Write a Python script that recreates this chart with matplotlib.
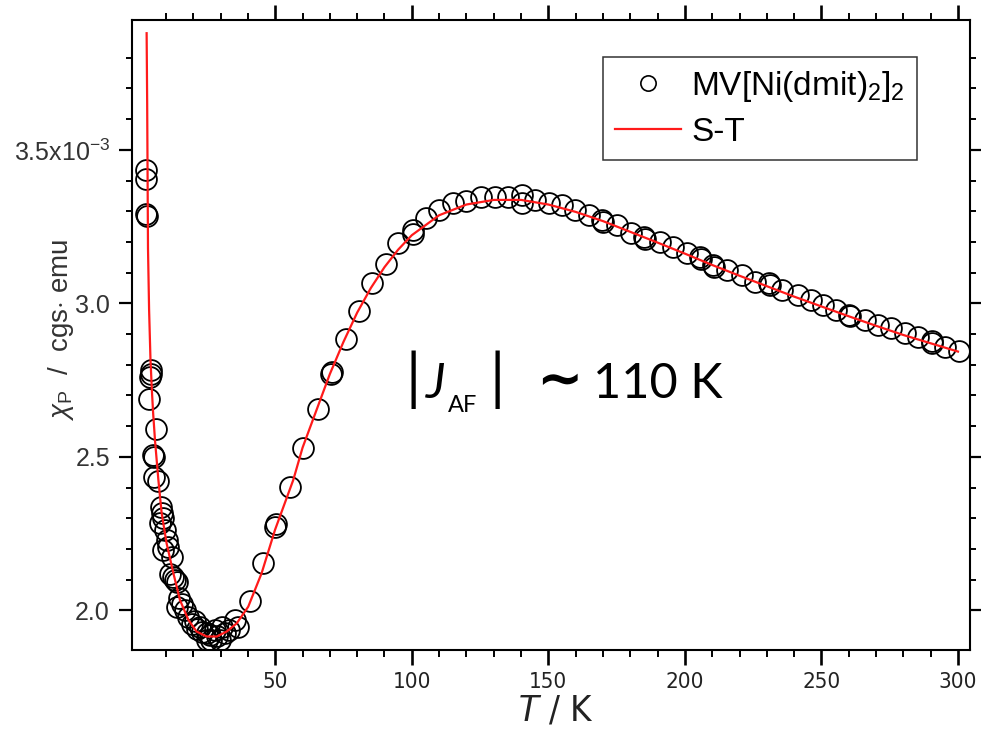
import matplotlib
matplotlib.use("Agg")
import matplotlib.pyplot as plt
from matplotlib import font_manager
from matplotlib.lines import Line2D
from matplotlib.ticker import FixedLocator, FixedFormatter, NullFormatter

_names = {f.name for f in font_manager.fontManager.ttflist}
NARROW = "Liberation Sans Narrow" if "Liberation Sans Narrow" in _names else "DejaVu Sans"
SANS = "Liberation Sans"
CAL = "Lato"

plt.rcParams["mathtext.fontset"] = "custom"
plt.rcParams["mathtext.rm"] = SANS
plt.rcParams["mathtext.it"] = SANS + ":italic"
plt.rcParams["mathtext.sf"] = SANS

# measured susceptibility, chi in units of 1e-3 emu/mol
T_data = [2.6, 2.7, 2.7, 2.9, 4.4, 4.6, 4.3, 3.9, 6.2, 5.4, 5.7, 5.6, 7.2, 8.0, 8.4,
          7.8, 8.8, 9.5, 10.2, 9.0, 10.8, 12.1, 11.5, 12.7, 13.9, 13.2, 13.9, 14.8,
          16.0, 17.0, 18.2, 19.5, 20.6, 21.5, 22.4, 23.2, 24.9, 24.9, 26.0, 26.5,
          27.9, 28.5, 29.8, 30.4, 31.5, 33.0, 35.3, 36.5, 40.8, 45.6, 49.9, 50.3,
          55.4, 60.2, 65.6, 70.8, 70.5, 75.9, 80.7, 85.5, 90.4, 95.0, 100.3, 100.6,
          105.2, 110.1, 115.0, 119.9, 125.5, 130.5, 135.4, 140.3, 140.3, 145.2,
          150.1, 155.0, 159.9, 164.8, 169.7, 170.1, 175.3, 180.3, 185.2, 185.5,
          190.8, 195.7, 200.6, 205.5, 206.0, 210.4, 210.6, 215.3, 220.9, 225.8,
          230.8, 231.1, 235.7, 241.3, 246.2, 250.4, 255.3, 260.2, 260.5, 265.8,
          270.7, 275.6, 280.6, 285.5, 290.4, 290.6, 295.3, 300.2]
chi_data = [3.435, 3.405, 3.292, 3.286, 2.782, 2.770, 2.760, 2.688, 2.590, 2.506,
            2.500, 2.433, 2.420, 2.338, 2.318, 2.285, 2.300, 2.262, 2.230, 2.197,
            2.205, 2.175, 2.120, 2.110, 2.094, 2.100, 2.012, 2.040, 2.020, 2.002,
            1.980, 1.955, 1.964, 1.940, 1.947, 1.930, 1.926, 1.904, 1.920, 1.905,
            1.937, 1.918, 1.904, 1.947, 1.925, 1.935, 1.969, 1.947, 2.029, 2.154,
            2.273, 2.280, 2.403, 2.530, 2.655, 2.778, 2.770, 2.885, 2.975, 3.065,
            3.128, 3.196, 3.239, 3.226, 3.277, 3.305, 3.326, 3.332, 3.348, 3.348,
            3.345, 3.353, 3.328, 3.336, 3.326, 3.321, 3.305, 3.288, 3.272, 3.265,
            3.256, 3.230, 3.217, 3.210, 3.201, 3.185, 3.163, 3.152, 3.145, 3.125,
            3.117, 3.109, 3.093, 3.071, 3.066, 3.060, 3.044, 3.028, 3.011, 2.995,
            2.979, 2.963, 2.958, 2.946, 2.930, 2.919, 2.903, 2.892, 2.876, 2.870,
            2.858, 2.846]

# S-T model curve
T_fit = [2.9, 3.1, 3.4, 3.8, 4.3, 4.8, 5.3, 6.0, 7.2, 8.4, 10.2, 12.7, 15.1, 18.2,
         21.2, 24.9, 28.6, 32.2, 35.9, 40.1, 45.0, 49.9, 56.6, 60, 65, 70, 75, 80,
         85, 90, 95, 100, 110, 120, 130, 140, 150, 160, 170, 180, 190, 200, 210,
         220, 230, 240, 250, 260, 270, 280, 290, 300]
chi_fit = [3.88, 3.65, 3.18, 2.98, 2.82, 2.72, 2.64, 2.55, 2.425, 2.317, 2.219,
           2.121, 2.034, 1.969, 1.931, 1.915, 1.915, 1.931, 1.958, 2.012, 2.121,
           2.262, 2.425, 2.53, 2.65, 2.77, 2.875, 2.97, 3.05, 3.118, 3.175, 3.222,
           3.287, 3.322, 3.337, 3.337, 3.322, 3.298, 3.268, 3.233, 3.198, 3.162,
           3.125, 3.090, 3.056, 3.022, 2.990, 2.958, 2.927, 2.897, 2.870, 2.843]

x_major = [50, 100, 150, 200, 250, 300]
x_major_labels = ["50", "100", "150", "200", "250", "300"]
x_minor = [t for t in range(10, 300, 10) if t % 50]
y_major = [2.0, 2.5, 3.0, 3.5]
y_major_labels = ["2.0", "2.5", "3.0", r"3.5x10$^{-3}$"]
y_minor = [2.1, 2.2, 2.3, 2.4, 2.6, 2.7, 2.8, 2.9, 3.1, 3.2, 3.3, 3.4, 3.6, 3.7, 3.8]

SCALE = 1e-3
W, H = 981, 733
fig = plt.figure(figsize=(W / 100, H / 100), dpi=100)
AX_L, AX_R, AX_T, AX_B = 131.5, 970, 20, 650
ax = fig.add_axes([AX_L / W, 1 - AX_B / H, (AX_R - AX_L) / W, (AX_B - AX_T) / H])

ax.plot(T_data, [c * SCALE for c in chi_data], ls="none", marker="o",
        ms=15, mfc="none", mec="black", mew=1.3, zorder=2)
ax.plot(T_fit, [c * SCALE for c in chi_fit], color="#ff1a1a", lw=1.6, zorder=3)

ax.set_xlim(-2.64, 304.4)
ax.set_ylim(1.871 * SCALE, 3.923 * SCALE)

ax.xaxis.set_major_locator(FixedLocator(x_major))
ax.xaxis.set_major_formatter(FixedFormatter(x_major_labels))
ax.xaxis.set_minor_locator(FixedLocator(x_minor))
ax.yaxis.set_major_locator(FixedLocator([v * SCALE for v in y_major]))
ax.yaxis.set_major_formatter(FixedFormatter(y_major_labels))
ax.yaxis.set_minor_locator(FixedLocator([v * SCALE for v in y_minor]))
ax.xaxis.set_minor_formatter(NullFormatter())
ax.yaxis.set_minor_formatter(NullFormatter())

for s in ax.spines.values():
    s.set_linewidth(1.5)
ax.tick_params(axis="both", which="both", direction="out", top=True, right=True,
               color="black")
ax.tick_params(axis="x", which="major", length=10.5, width=1.9, pad=5)
ax.tick_params(axis="x", which="minor", length=5, width=1.4)
ax.tick_params(axis="y", which="major", length=9.5, width=1.6, pad=6)
ax.tick_params(axis="y", which="minor", length=4.5, width=1.4)

for lab in ax.get_xticklabels():
    lab.set_fontfamily(NARROW)
    lab.set_fontstretch("condensed")
    lab.set_fontsize(16)
    lab.set_color("#222222")
for lab in ax.get_yticklabels():
    lab.set_fontfamily(SANS)
    lab.set_fontsize(18)
    lab.set_color("#333333")

ax.set_xlabel(r"$T$ / K", fontfamily=NARROW, fontstretch="condensed", fontsize=26,
              color="#222222")
ax.xaxis.set_label_coords((555 - AX_L) / (AX_R - AX_L), (AX_B - 694) / (AX_B - AX_T))
ax.set_ylabel(r"$\chi_{\rm P}$  /  cgs$\cdot$ emu", fontfamily=SANS, fontsize=20,
              color="#333333")
ax.yaxis.set_label_coords((76 - AX_L) / (AX_R - AX_L), (AX_B - 330) / (AX_B - AX_T))

handles = [Line2D([], [], ls="none", marker="o", ms=11, mfc="none", mec="black", mew=1.2),
           Line2D([], [], color="#ff1a1a", lw=1.6)]
leg = ax.legend(handles, [r"MV[Ni(dmit)$_2$]$_2$", "S-T"], loc="upper left",
                bbox_to_anchor=(603 / W, 1 - 57 / H), bbox_transform=fig.transFigure,
                frameon=True, fancybox=False, framealpha=1, edgecolor="#333333",
                borderpad=0.35, borderaxespad=0, handlelength=2.0, handletextpad=0.3,
                labelspacing=0.4, prop={"family": SANS, "size": 24})
leg.get_frame().set_linewidth(1.1)

# exchange-coupling annotation
def fx(px):
    return px / W

def fy(py):
    return 1 - py / H

for bar_x in (413, 497):
    fig.text(fx(bar_x), fy(380), "|", fontfamily=CAL, fontweight="normal", fontsize=44,
             ha="center", va="center", color="black")
fig.text(fx(426), fy(398), "J", fontfamily=CAL, fontstyle="italic", fontsize=35,
         ha="left", va="baseline", color="black")
fig.text(fx(448), fy(412), "AF", fontfamily=CAL, fontsize=17, ha="left", va="baseline",
         color="black")
fig.text(fx(559), fy(382), "\u223c", fontfamily="DejaVu Sans", fontweight="bold",
         fontsize=40, ha="center", va="center", color="black")
fig.text(fx(593), fy(398), "110 K", fontfamily=CAL, fontsize=35,
         ha="left", va="baseline", color="black")

fig.savefig("out.png", dpi=100)
